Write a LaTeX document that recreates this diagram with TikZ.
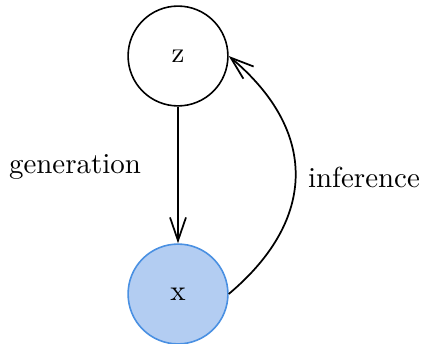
\documentclass[tikz,border=0pt]{standalone}
\usetikzlibrary{arrows.meta}
\definecolor{xfill}{HTML}{B3CDF2}
\definecolor{xborder}{HTML}{4A90E2}
\begin{document}
\begin{tikzpicture}[x=0.3456pt,y=-0.3456pt,
  var/.style={circle,draw,line width=0.55pt,minimum size=34.5pt,inner sep=0pt},
  obs/.style={var,fill=xfill,draw=xborder},
  conn/.style={line width=0.6pt,-{Straight Barb[length=8pt,width=5.5pt]}},
  lbl/.style={inner sep=0pt}]
\useasboundingbox (0,0) rectangle (423,344);
\node[var] (z) at (178,56) {z};
\node[obs] (x) at (178,294) {x};
\node[lbl] (gen) at (75,167) {generation};
\node[lbl] (inf) at (364,177) {inference};
\draw[conn] (z) -- (x);
\draw[conn] (x.east) to[out=40,in=-40,looseness=1.25] (z.east);
\end{tikzpicture}
\end{document}
